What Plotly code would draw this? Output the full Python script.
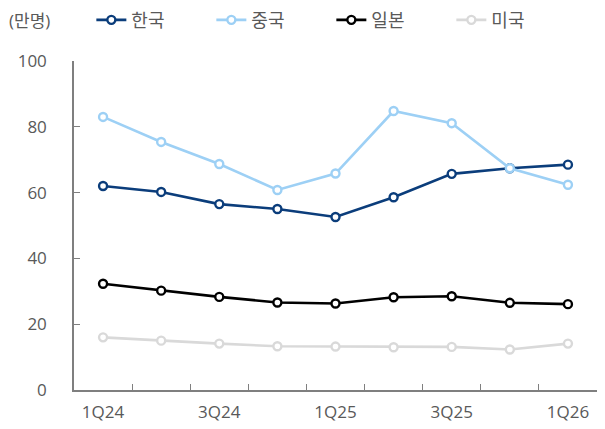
import plotly.graph_objects as go

quarters = ["1Q24", "2Q24", "3Q24", "4Q24", "1Q25", "2Q25", "3Q25", "4Q25", "1Q26"]
tick_labels = ["1Q24", "", "3Q24", "", "1Q25", "", "3Q25", "", "1Q26"]
korea = [62.0, 60.2, 56.5, 55.0, 52.6, 58.6, 65.7, 67.4, 68.5]
china = [83.0, 75.4, 68.7, 60.8, 65.8, 84.8, 81.1, 67.4, 62.4]
japan = [32.3, 30.2, 28.3, 26.6, 26.3, 28.2, 28.5, 26.5, 26.1]
usa = [16.0, 15.0, 14.1, 13.3, 13.2, 13.0, 13.1, 12.3, 14.1]
unit_label = "(만명)"

series = [
    ("한국", korea, "#0B3D7B"),
    ("중국", china, "#9DD0F5"),
    ("일본", japan, "#000000"),
    ("미국", usa, "#D9D9D9"),
]

FONT = "Open Sans, Noto Sans CJK KR, sans-serif"
GRAY = "#595959"

fig = go.Figure()
for name, vals, col in series:
    fig.add_trace(go.Scatter(
        x=quarters, y=vals, name=name, mode="lines+markers",
        line=dict(color=col, width=2.6),
        marker=dict(symbol="circle", size=8, color="white",
                    line=dict(color=col, width=2.4)),
    ))

fig.update_layout(
    width=605, height=429,
    margin=dict(l=74, r=8, t=61, b=38.5, autoexpand=False),
    paper_bgcolor="white", plot_bgcolor="white",
    font=dict(family=FONT, size=17, color=GRAY),
    showlegend=True,
    legend=dict(orientation="h", xref="container", yref="container",
                x=0.151, y=0.953, xanchor="left", yanchor="middle",
                font=dict(family=FONT, size=18, color=GRAY),
                entrywidth=75, bgcolor="rgba(0,0,0,0)"),
    annotations=[dict(text=unit_label, xref="paper", yref="paper",
                      x=-0.128, y=1.1244, xanchor="left", yanchor="middle",
                      showarrow=False,
                      font=dict(family=FONT, size=17, color=GRAY))],
)

fig.update_xaxes(
    type="category", tickmode="array", tickvals=quarters, ticktext=tick_labels,
    tickson="boundaries", ticks="inside", ticklen=6, tickcolor="#7F7F7F",
    tickwidth=1.3, showline=True, linecolor="#7F7F7F", linewidth=1.5,
    showgrid=False, zeroline=False, range=[-0.5, 8.5],
    ticklabelstandoff=6, tickfont=dict(size=17, color=GRAY),
)
fig.update_yaxes(
    range=[0, 100], dtick=20, tick0=0, ticks="inside", ticklen=6,
    tickcolor="#7F7F7F", tickwidth=1.3, showline=True, linecolor="#7F7F7F",
    linewidth=1.5, showgrid=False, zeroline=False,
    ticklabelstandoff=22, tickfont=dict(size=17, color=GRAY),
)

fig.write_html("out.html", config={"displayModeBar": False},
               post_script="document.body.style.margin='0';document.body.style.overflow='hidden';")
